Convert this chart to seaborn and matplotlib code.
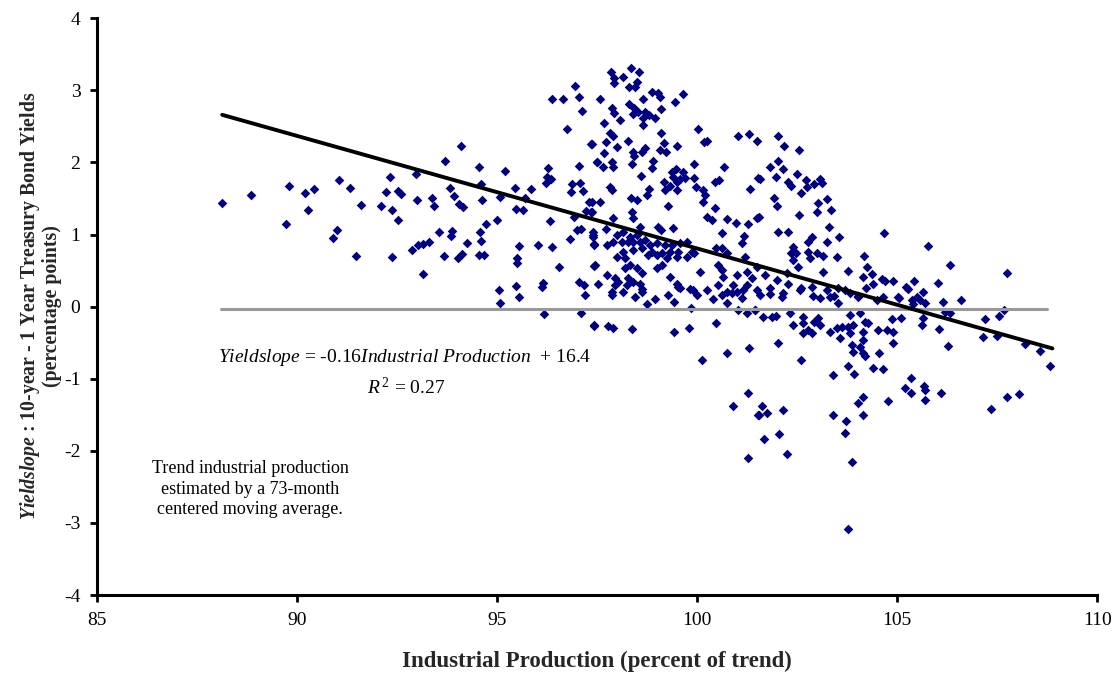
import matplotlib
matplotlib.use("Agg")
import matplotlib.pyplot as plt
import seaborn as sns
import pandas as pd

# ---------------- data ----------------
left_pts = [
    (88.13, 1.44), (88.85, 1.55), (89.8, 1.67), (89.73, 1.15), (90.2, 1.58), (90.43, 1.63),
    (90.28, 1.34), (91.05, 1.76), (91.33, 1.65), (91.6, 1.41), (91.0, 1.06), (90.9, 0.95),
    (91.48, 0.70), (92.33, 1.8), (92.23, 1.59), (92.53, 1.6), (92.6, 1.56), (92.1, 1.40),
    (92.38, 1.34), (92.53, 1.2), (92.38, 0.69), (92.88, 0.78), (92.98, 1.84), (93.0, 1.48),
    (93.03, 0.85),
]
mid_left_pts = [
    (94.1, 2.23), (93.7, 2.02), (93.38, 1.5), (93.43, 1.39), (93.83, 1.65), (93.93, 1.53),
    (94.05, 1.43), (94.15, 1.38), (94.55, 1.94), (94.6, 1.7), (94.63, 1.48), (95.2, 1.88),
    (95.08, 1.52), (95.45, 1.65), (95.85, 1.63), (95.7, 1.51), (95.48, 1.35), (95.65, 1.34),
    (96.28, 1.92), (96.25, 1.8), (96.35, 1.77), (96.23, 1.71), (96.33, 1.19), (97.05, 1.95),
    (97.35, 2.26), (97.5, 2.0), (96.88, 1.7), (96.85, 1.59), (97.08, 1.72), (97.15, 1.6),
    (97.3, 1.45), (97.23, 1.33), (97.35, 1.31), (96.93, 1.24), (97.58, 1.45), (95.0, 1.2),
    (94.73, 1.15), (93.55, 1.03), (93.88, 1.05), (93.85, 0.98), (93.15, 0.87), (93.3, 0.9),
    (94.25, 0.88), (94.58, 1.03), (94.6, 0.91), (93.68, 0.7), (94.03, 0.67), (94.13, 0.73),
    (94.55, 0.72), (94.68, 0.72), (93.15, 0.45), (95.55, 0.84), (96.03, 0.85), (96.38, 0.83),
    (95.5, 0.67), (95.5, 0.6), (96.55, 0.55), (96.83, 0.94), (97.0, 1.06), (97.1, 1.08),
    (97.4, 1.03), (97.4, 0.96), (97.43, 0.87), (97.43, 0.56), (95.05, 0.23), (95.48, 0.28),
    (95.55, 0.13), (95.08, 0.05), (96.15, 0.33), (96.13, 0.27), (97.05, 0.34), (97.18, 0.3),
    (97.2, 0.16), (96.18, -0.1), (97.1, -0.09), (97.43, -0.26), (96.38, 2.88), (96.65, 2.88),
    (96.95, 3.06), (96.75, 2.47),
]
core_upper_pts = [
    (97.85, 3.26), (98.35, 3.31), (98.55, 3.26), (97.93, 3.17), (98.15, 3.19), (97.93, 3.1),
    (98.5, 3.11), (98.3, 3.05), (98.45, 3.05), (97.05, 2.91), (97.58, 2.88), (98.3, 2.81),
    (98.65, 2.88), (98.88, 2.98), (99.03, 2.96), (99.08, 2.91), (99.45, 2.84), (99.65, 2.95),
    (97.13, 2.71), (97.88, 2.76), (97.93, 2.69), (98.08, 2.59), (98.43, 2.76), (98.4, 2.67),
    (98.53, 2.7), (98.65, 2.62), (98.7, 2.7), (98.8, 2.66), (98.65, 2.52), (98.95, 2.62),
    (99.1, 2.74), (97.68, 2.54), (97.83, 2.41), (97.9, 2.36), (97.73, 2.29), (98.0, 2.22),
    (98.28, 2.3), (97.68, 2.13), (97.38, 2.26), (97.5, 2.01), (97.65, 1.94), (97.88, 2.01),
    (97.9, 1.94), (98.4, 2.15), (98.43, 2.09), (98.7, 2.2), (98.63, 2.15), (99.1, 2.41),
    (99.18, 2.27), (99.08, 2.17), (99.23, 2.15), (99.5, 2.23), (98.9, 2.02), (98.38, 1.98),
    (98.88, 1.92), (98.6, 1.81), (100.03, 2.47), (100.18, 2.29), (100.25, 2.3), (101.03, 2.37),
    (101.3, 2.4), (101.5, 2.3), (99.93, 1.98), (100.68, 1.94), (99.38, 1.87), (99.48, 1.91),
    (99.65, 1.87), (99.4, 1.8), (99.58, 1.77), (99.7, 1.78), (99.18, 1.73), (99.5, 1.73),
    (99.33, 1.67), (99.5, 1.62), (99.2, 1.62), (99.93, 1.78), (99.98, 1.66), (100.15, 1.62),
    (100.2, 1.55), (100.15, 1.45), (100.45, 1.73), (100.55, 1.76), (101.33, 1.63), (101.53, 1.78),
    (97.83, 1.66), (97.88, 1.62), (98.8, 1.63), (98.75, 1.55), (98.35, 1.51), (98.5, 1.48),
    (99.28, 1.39), (98.38, 1.31), (98.4, 1.23), (97.9, 1.23), (100.45, 1.37), (100.25, 1.24),
    (100.38, 1.2), (100.75, 1.22), (100.98, 1.16), (101.28, 1.14), (101.5, 1.23), (100.63, 1.02),
    (101.18, 0.98), (97.73, 1.08), (97.4, 0.99), (98.58, 1.1), (99.03, 1.1), (99.1, 1.06),
    (99.4, 1.09), (97.38, 1.45), (97.38, 1.31),
]
core_mid_pts = [
    (98.0, 0.99), (98.15, 1.03), (98.33, 0.96), (98.5, 0.99), (98.13, 0.9), (98.28, 0.9),
    (98.4, 0.9), (98.58, 0.9), (98.7, 0.92), (97.75, 0.85), (97.9, 0.9), (97.43, 0.85),
    (98.83, 0.85), (99.0, 0.88), (99.2, 0.86), (99.38, 0.85), (99.58, 0.88), (99.75, 0.9),
    (99.88, 0.76), (98.15, 0.76), (98.4, 0.78), (98.63, 0.81), (98.88, 0.76), (99.13, 0.74),
    (99.33, 0.76), (99.53, 0.76), (98.0, 0.69), (98.2, 0.67), (98.78, 0.72), (99.0, 0.72),
    (99.25, 0.67), (99.5, 0.69), (99.75, 0.69), (99.93, 0.74), (97.45, 0.58), (98.2, 0.53),
    (98.33, 0.58), (98.5, 0.53), (98.63, 0.46), (99.0, 0.53), (99.13, 0.58), (97.75, 0.44),
    (97.95, 0.4), (98.03, 0.34), (98.28, 0.4), (98.4, 0.34), (98.58, 0.32), (97.53, 0.32),
    (97.88, 0.2), (98.15, 0.2), (98.63, 0.2), (99.5, 0.32), (99.58, 0.26), (99.33, 0.41),
    (100.48, 0.81), (100.63, 0.81), (100.75, 0.74), (100.53, 0.58), (100.63, 0.51), (100.65, 0.41),
    (101.0, 0.44), (101.2, 0.69), (101.25, 0.48), (101.5, 0.55), (100.53, 0.3), (100.9, 0.3),
    (101.25, 0.3), (100.75, 0.2), (101.0, 0.2), (100.08, 0.48), (99.9, 0.23), (100.25, 0.23),
    (101.13, 0.88),
]
core_lower_pts = [
    (97.88, 0.16), (98.45, 0.14), (98.63, 0.24), (98.25, 0.3), (97.95, 0.3), (98.95, 0.1),
    (98.75, 0.03), (99.28, 0.16), (99.43, 0.06), (99.53, 0.27), (99.83, 0.24), (100.0, 0.16),
    (99.85, -0.02), (100.4, 0.1), (100.63, 0.16), (100.75, 0.05), (100.88, 0.19), (101.13, 0.12),
    (101.15, 0.23), (101.03, -0.05), (101.25, -0.09), (101.45, -0.05), (97.43, -0.27), (97.78, -0.27),
    (97.9, -0.3), (98.38, -0.31), (99.43, -0.35), (99.8, -0.3), (100.48, -0.23), (100.13, -0.74),
    (100.75, -0.64), (101.3, -0.58), (101.28, -1.2), (100.9, -1.38), (101.53, -1.51), (101.28, -2.1),
]
right_upper_pts = [
    (102.03, 2.37), (102.18, 2.23), (102.55, 2.17), (102.03, 2.02), (101.83, 1.94), (102.15, 1.91),
    (101.58, 1.77), (101.98, 1.8), (102.28, 1.73), (102.35, 1.67), (102.5, 1.84), (102.73, 1.76),
    (102.75, 1.66), (102.93, 1.7), (103.08, 1.77), (103.13, 1.71), (102.6, 1.57), (101.93, 1.51),
    (102.0, 1.39), (103.25, 1.49), (103.03, 1.44), (103.35, 1.34), (103.0, 1.31), (102.55, 1.27),
    (101.55, 1.24), (103.3, 1.1), (102.03, 1.03), (102.28, 1.03), (103.55, 0.96), (102.88, 0.96),
    (102.78, 0.9), (103.25, 0.9), (104.68, 1.02), (102.4, 0.83), (102.35, 0.74), (102.48, 0.74),
    (102.78, 0.76), (103.0, 0.74), (102.83, 0.67), (103.15, 0.7), (103.5, 0.69), (102.4, 0.65),
    (102.53, 0.55), (104.18, 0.7), (104.25, 0.55), (104.15, 0.41), (104.38, 0.45), (104.4, 0.31),
    (103.78, 0.49), (103.15, 0.48), (102.25, 0.47), (104.63, 0.38), (104.7, 0.36), (104.9, 0.36),
    (105.23, 0.27), (105.43, 0.36), (105.28, 0.24), (102.6, 0.26), (102.88, 0.27), (101.38, 0.4),
    (101.7, 0.44), (102.0, 0.37), (102.28, 0.32), (101.83, 0.26), (101.5, 0.23), (102.15, 0.19),
    (103.25, 0.23), (103.53, 0.26), (103.7, 0.23), (104.03, 0.15), (104.23, 0.26), (105.03, 0.13),
    (103.43, 0.15),
]
right_lower_pts = [
    (101.58, 0.16), (101.83, 0.17), (102.13, 0.13), (102.58, 0.23), (102.9, 0.15), (103.08, 0.12),
    (103.33, 0.13), (103.53, 0.05), (103.83, 0.19), (104.03, 0.13), (104.5, 0.09), (104.65, 0.13),
    (105.05, 0.12), (105.38, 0.09), (101.45, -0.05), (101.65, -0.14), (101.88, -0.14), (101.98, -0.13),
    (102.33, -0.09), (102.65, -0.14), (102.4, -0.26), (102.65, -0.23), (102.78, -0.33), (102.93, -0.22),
    (103.03, -0.16), (103.08, -0.26), (102.88, -0.37), (102.65, -0.37), (103.33, -0.35), (103.5, -0.3),
    (103.63, -0.28), (103.83, -0.12), (103.78, -0.28), (103.9, -0.26), (103.83, -0.37), (104.08, -0.09),
    (104.2, -0.22), (104.28, -0.23), (104.15, -0.35), (104.53, -0.33), (104.75, -0.33), (104.9, -0.35),
    (104.88, -0.17), (105.1, -0.16), (104.15, -0.46), (103.88, -0.53), (103.58, -0.44), (104.08, -0.56),
    (104.15, -0.65), (104.2, -0.69), (103.9, -0.63), (104.55, -0.65), (104.9, -0.51), (102.03, -0.51),
    (102.6, -0.74), (103.78, -0.83), (103.93, -0.94), (103.4, -0.95), (104.4, -0.85), (104.65, -0.87),
    (105.35, -0.99), (105.2, -1.13), (105.35, -1.2), (104.78, -1.31), (104.15, -1.26), (104.03, -1.33),
    (101.63, -1.38), (101.55, -1.51), (101.75, -1.47), (102.15, -1.44), (103.4, -1.51), (104.15, -1.51),
    (103.73, -1.59), (101.68, -1.83), (102.05, -1.77), (103.7, -1.75), (102.25, -2.04), (103.88, -2.15),
    (103.78, -3.08),
]
far_right_pts = [
    (105.78, 0.84), (106.33, 0.58), (107.75, 0.46), (106.03, 0.33), (105.65, 0.2), (105.5, 0.13),
    (105.58, 0.09), (105.7, 0.05), (105.4, 0.03), (106.15, 0.06), (106.6, 0.09), (106.2, -0.08),
    (106.33, -0.09), (107.68, -0.04), (105.65, -0.16), (105.63, -0.25), (107.2, -0.17), (107.55, -0.13),
    (106.05, -0.31), (107.15, -0.42), (107.5, -0.41), (106.28, -0.55), (108.2, -0.52), (108.58, -0.61),
    (108.83, -0.83), (105.68, -1.1), (105.7, -1.15), (106.1, -1.2), (105.7, -1.3), (107.75, -1.26),
    (108.05, -1.21), (107.35, -1.42),
]

trend_x = [88.13, 108.88]          # fitted trend line end points
trend_y = [2.66, -0.58]
mean_x = [88.1, 108.75]            # grey horizontal reference line
mean_y = [-0.03, -0.03]

x_ticks = [85, 90, 95, 100, 105, 110]
y_ticks = [-4, -3, -2, -1, 0, 1, 2, 3, 4]

# ---------------- build frame ----------------
all_pts = (left_pts + mid_left_pts + core_upper_pts + core_mid_pts + core_lower_pts
           + right_upper_pts + right_lower_pts + far_right_pts)
df = pd.DataFrame(all_pts, columns=["ip", "yieldslope"])

# ---------------- style ----------------
sns.set_theme(style="white")
plt.rcParams['font.family'] = ['Liberation Serif', 'DejaVu Serif']
plt.rcParams['axes.unicode_minus'] = False
plt.rcParams['mathtext.fontset'] = 'custom'
plt.rcParams['mathtext.rm'] = 'Liberation Serif'
plt.rcParams['mathtext.it'] = 'Liberation Serif:italic'
plt.rcParams['mathtext.bf'] = 'Liberation Serif:bold'
plt.rcParams['mathtext.bfit'] = 'Liberation Serif:italic:bold'

fig = plt.figure(figsize=(11.15, 6.75), dpi=100)
ax = fig.add_axes([0.087, 0.1185, 0.897, 0.8545])

sns.scatterplot(data=df, x="ip", y="yieldslope", marker="D", s=24,
                color="#000080", linewidth=0, ax=ax, zorder=2)
sns.lineplot(x=mean_x, y=mean_y, color="#999999", linewidth=2.2, ax=ax, zorder=3)
sns.lineplot(x=trend_x, y=trend_y, color="black", linewidth=2.8, ax=ax, zorder=4)

ax.set_xlim(85, 110)
ax.set_ylim(-4, 4)
ax.set_xticks(x_ticks)
ax.set_yticks(y_ticks)
ax.set_xticklabels([str(t) for t in x_ticks])
ax.set_yticklabels([str(t) for t in y_ticks])
ax.set_xlabel("")
ax.set_ylabel("")

for side in ["top", "right"]:
    ax.spines[side].set_visible(False)
for side in ["left", "bottom"]:
    ax.spines[side].set_color("black")
    ax.spines[side].set_linewidth(2.2)

ax.tick_params(axis="both", direction="out", length=5, width=2, color="black",
               labelsize=14, labelcolor="black", pad=7,
               bottom=True, left=True)

# annotations
ax.text(92.68, -0.70,
        r"$\mathit{Yieldslope}$ = -0.16$\mathit{Industrial\ Production}$  + 16.4",
        ha="center", va="center", fontsize=14, color="black")
ax.text(92.73, -1.12, r"$\mathit{R}^{\,2}$ = 0.27",
        ha="center", va="center", fontsize=14, color="black")
ax.text(88.83, -2.53,
        "Trend industrial production\nestimated by a 73-month\ncentered moving average.",
        ha="center", va="center", fontsize=13, color="black", linespacing=1.25)

fig.text(597 / 1115, 1 - 661 / 675, "Industrial Production (percent of trend)",
         ha="center", va="center", fontsize=16.5, fontweight="bold")
fig.text(40 / 1115, 1 - 306 / 675,
         r"$\mathbfit{Yieldslope}$ : 10-year - 1 Year Treasury Bond Yields" + "\n(percentage points)",
         ha="center", va="center", rotation=90, fontsize=14.2, fontweight="bold",
         multialignment="center", linespacing=1.05)

fig.savefig("out.png", dpi=100, facecolor="white")
